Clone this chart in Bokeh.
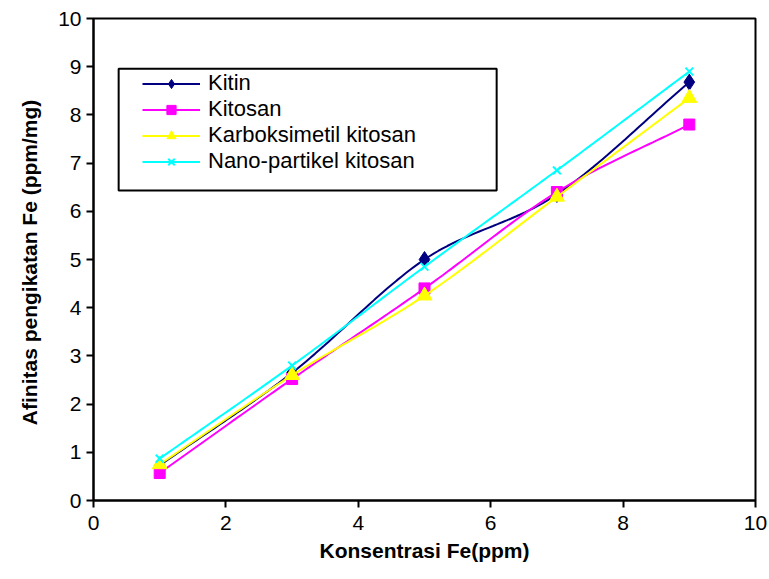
import numpy as np
from bokeh.plotting import figure
from bokeh.models import Legend, LegendItem, FixedTicker, Range1d, BoxAnnotation
from bokeh.embed import file_html
from bokeh.resources import INLINE

# Fe concentration (ppm) and binding affinity (ppm/mg) for each adsorbent
konsentrasi = [1, 3, 5, 7, 9]
kitin = [0.73, 2.65, 5.0, 6.35, 8.68]
kitosan = [0.57, 2.52, 4.4, 6.4, 7.8]
karboksimetil = [0.75, 2.6, 4.25, 6.3, 8.35]
nano_partikel = [0.87, 2.8, 4.85, 6.85, 8.9]

series = [
    ("Kitin", kitin, "#000080", "diamond", 16),
    ("Kitosan", kitosan, "#FF00FF", "square", 11),
    ("Karboksimetil kitosan", karboksimetil, "#FFFF00", "triangle", 15),
    ("Nano-partikel kitosan", nano_partikel, "#00FFFF", "x", 11),
]


def smooth(xs, ys, n=30):
    """Catmull-Rom curve through the points (spreadsheet-style smoothed line)."""
    xs = np.asarray(xs, float)
    ys = np.asarray(ys, float)
    px = np.concatenate([[2 * xs[0] - xs[1]], xs, [2 * xs[-1] - xs[-2]]])
    py = np.concatenate([[2 * ys[0] - ys[1]], ys, [2 * ys[-1] - ys[-2]]])
    out_x, out_y = [], []
    t = np.linspace(0, 1, n)
    for i in range(1, len(px) - 2):
        for arr, out in ((px, out_x), (py, out_y)):
            p0, p1, p2, p3 = arr[i - 1], arr[i], arr[i + 1], arr[i + 2]
            seg = 0.5 * ((2 * p1) + (-p0 + p2) * t
                         + (2 * p0 - 5 * p1 + 4 * p2 - p3) * t ** 2
                         + (-p0 + 3 * p1 - 3 * p2 + p3) * t ** 3)
            out.extend(seg.tolist())
    return out_x, out_y


p = figure(width=769, height=579, output_backend="svg", toolbar_location=None,
           x_range=Range1d(0, 10), y_range=Range1d(0, 10),
           min_border_left=93, min_border_right=14, min_border_top=18,
           min_border_bottom=79)

p.xgrid.visible = False
p.ygrid.visible = False
p.outline_line_color = "black"
p.outline_line_width = 2
p.background_fill_color = "white"
p.border_fill_color = "white"

font = "Liberation Sans"
for ax in (p.xaxis, p.yaxis):
    ax.axis_line_color = "black"
    ax.axis_line_width = 2
    ax.major_tick_line_color = "black"
    ax.major_tick_line_width = 2
    ax.major_tick_out = 7
    ax.major_tick_in = 0
    ax.minor_tick_line_color = None
    ax.major_label_text_font = font
    ax.major_label_text_font_size = "21px"
    ax.major_label_text_color = "black"
    ax.axis_label_text_font = font
    ax.axis_label_text_font_style = "bold"
    ax.axis_label_text_font_size = "21px"
    ax.axis_label_text_color = "black"

p.xaxis.ticker = FixedTicker(ticks=[0, 2, 4, 6, 8, 10])
p.yaxis.ticker = FixedTicker(ticks=list(range(0, 11)))
p.xaxis.major_label_standoff = 8
p.yaxis.major_label_standoff = 5
p.xaxis.axis_label = "Konsentrasi Fe(ppm)"
p.yaxis.axis_label = "Afinitas pengikatan  Fe (ppm/mg)"
p.xaxis.axis_label_standoff = 6
p.yaxis.axis_label_standoff = 14

items = []
for name, ys, color, marker, size in series:
    sx, sy = smooth(konsentrasi, ys)
    line = p.line(sx, sy, line_color=color, line_width=2)
    if marker == "x":
        pts = p.scatter(konsentrasi, ys, marker="x", size=size, line_color=color,
                        line_width=2)
    else:
        pts = p.scatter(konsentrasi, ys, marker=marker, size=size, fill_color=color,
                        line_color=color)
    items.append(LegendItem(label=name, renderers=[line, pts]))

# legend frame, drawn separately so that it can be wider than its text
p.add_layout(BoxAnnotation(left=0.38, right=6.09, top=8.96, bottom=6.43,
                           fill_color="white", fill_alpha=1,
                           line_color="black", line_alpha=1, line_width=2,
                           level="underlay"))

legend = Legend(items=items, location=(49, 326), orientation="vertical")
legend.label_text_font = font
legend.label_text_font_size = "22px"
legend.label_text_color = "black"
legend.label_height = 23
legend.glyph_width = 58
legend.glyph_height = 23
legend.spacing = 0
legend.padding = 12
legend.margin = 0
legend.border_line_color = None
legend.background_fill_alpha = 0
legend.label_standoff = 8
p.add_layout(legend, "center")

open("out.html", "w").write(file_html(p, INLINE))
